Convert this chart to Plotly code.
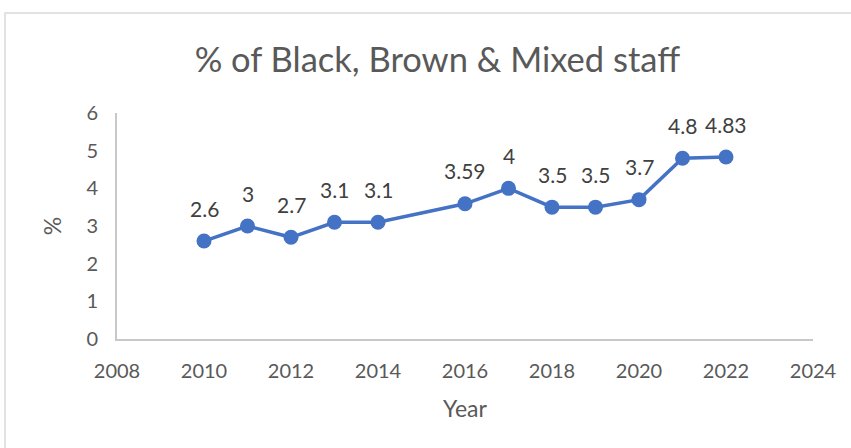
import plotly.graph_objects as go

years = [2010, 2011, 2012, 2013, 2014, 2016, 2017, 2018, 2019, 2020, 2021, 2022]
pct = [2.6, 3, 2.7, 3.1, 3.1, 3.59, 4, 3.5, 3.5, 3.7, 4.8, 4.83]
labels = ["2.6", "3", "2.7", "3.1", "3.1", "3.59", "4", "3.5", "3.5", "3.7", "4.8", "4.83"]
x_ticks = list(range(2008, 2025, 2))
y_ticks = [0, 1, 2, 3, 4, 5, 6]

FONT = "Lato, Calibri, sans-serif"
GREY = "#595959"

fig = go.Figure()
fig.add_trace(go.Scatter(
    x=years, y=pct, mode="lines+markers",
    line=dict(color="#4472C4", width=3.5),
    marker=dict(color="#4472C4", size=15),
    cliponaxis=False, showlegend=False,
))

for xv, yv, t in zip(years, pct, labels):
    fig.add_annotation(x=xv, y=yv, text=t, showarrow=False, yshift=33,
                       xanchor="center", yanchor="middle",
                       font=dict(family=FONT, size=21, color="#404040"))

W, H = 851, 448
L, R, T, B = 117, 38, 113, 109
pw, ph = W - L - R, H - T - B

fig.update_layout(
    width=W, height=H,
    margin=dict(l=L, r=R, t=T, b=B),
    paper_bgcolor="white", plot_bgcolor="white",
    title=dict(text="% of Black, Brown & Mixed staff", x=0.514, xanchor="center",
               y=(H - 60) / H, yanchor="middle",
               font=dict(family=FONT, size=34.5, color=GREY)),
    xaxis=dict(range=[2008, 2024], tickvals=x_ticks, ticktext=[str(v) for v in x_ticks],
               showgrid=False, zeroline=False, showline=True, linecolor="#C8C8C8", linewidth=2,
               ticks="", ticklabelstandoff=13, tickfont=dict(family=FONT, size=20, color=GREY),
               title=dict(text="Year", font=dict(family=FONT, size=23, color=GREY), standoff=20)),
    yaxis=dict(range=[0, 6], tickvals=y_ticks, showgrid=False, zeroline=False,
               showline=True, linecolor="#C8C8C8", linewidth=2,
               ticks="", ticklabelstandoff=13, tickfont=dict(family=FONT, size=20, color=GREY),
               title=dict(text="%", font=dict(family=FONT, size=23, color=GREY), standoff=18)),
)

fig.add_shape(type="rect", xref="paper", yref="paper",
              x0=(5 - L) / pw, x1=(W + 20 - L) / pw,
              y0=(H - B - (H + 20)) / ph, y1=(H - B - 13) / ph,
              line=dict(color="#D9D9D9", width=1.5), fillcolor="rgba(0,0,0,0)", layer="below")

fig.write_html("out.html")
